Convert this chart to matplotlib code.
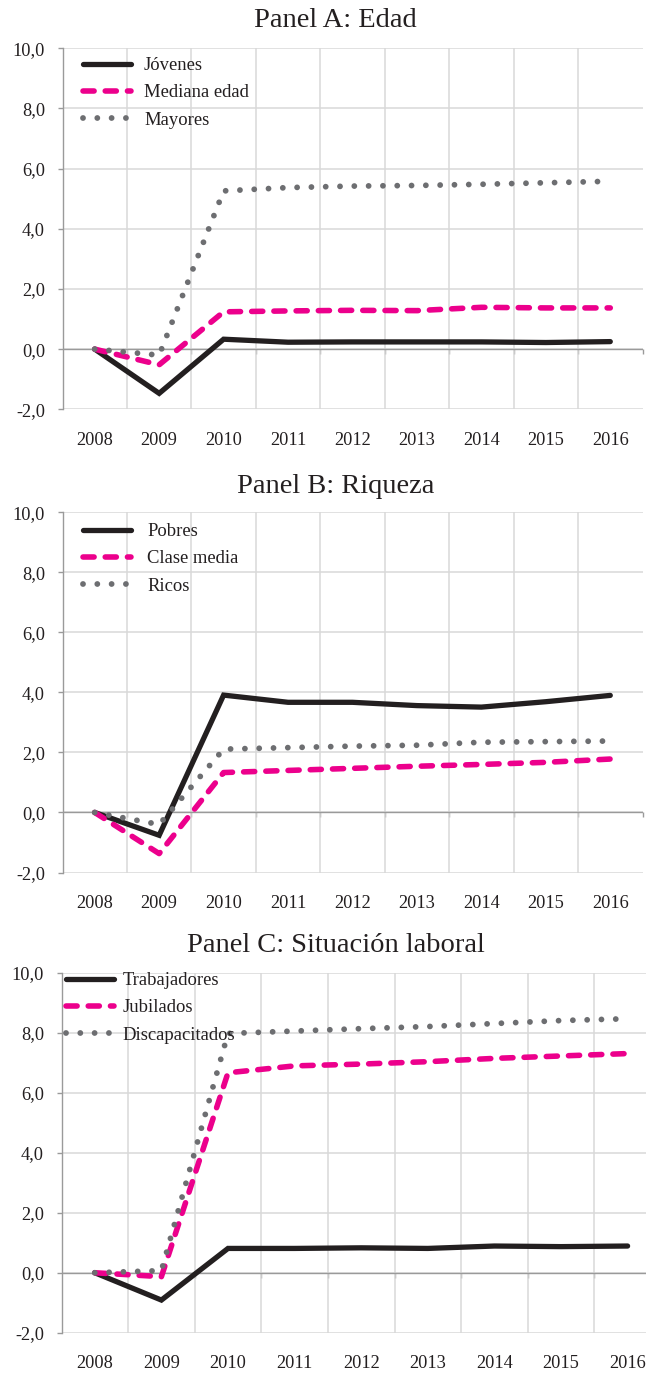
import matplotlib
matplotlib.use("Agg")
import matplotlib.pyplot as plt
import numpy as np

plt.rcParams['font.family'] = ['Liberation Serif', 'DejaVu Serif']
plt.rcParams['lines.scale_dashes'] = False

years = ['2008', '2009', '2010', '2011', '2012', '2013', '2014', '2015', '2016']
yticks = [-2, 0, 2, 4, 6, 8, 10]
ytick_labels = ['-2,0', '0,0', '2,0', '4,0', '6,0', '8,0', '10,0']

titles = ['Panel A: Edad', 'Panel B: Riqueza', 'Panel C: Situación laboral']

# Panel A: Edad
jovenes = [0.0, -1.47, 0.33, 0.23, 0.24, 0.24, 0.24, 0.22, 0.25]
mediana_edad = [0.0, -0.52, 1.24, 1.27, 1.29, 1.28, 1.39, 1.37, 1.37]
mayores = [0.0, -0.20, 5.26, 5.37, 5.42, 5.44, 5.48, 5.53, 5.58]

# Panel B: Riqueza
pobres = [0.0, -0.76, 3.91, 3.67, 3.67, 3.56, 3.51, 3.69, 3.90]
clase_media = [0.0, -1.37, 1.33, 1.40, 1.47, 1.54, 1.60, 1.67, 1.78]
ricos = [0.0, -0.40, 2.11, 2.16, 2.21, 2.24, 2.34, 2.36, 2.38]

# Panel C: Situación laboral
trabajadores = [0.0, -0.91, 0.81, 0.81, 0.83, 0.81, 0.89, 0.87, 0.89]
jubilados = [0.0, -0.13, 6.66, 6.89, 6.95, 7.03, 7.14, 7.22, 7.30]
discapacitados = [0.0, 0.07, 7.97, 8.05, 8.13, 8.20, 8.30, 8.40, 8.46]

labels_a = ['Jóvenes', 'Mediana edad', 'Mayores']
labels_b = ['Pobres', 'Clase media', 'Ricos']
labels_c = ['Trabajadores', 'Jubilados', 'Discapacitados']

panels = [
    (titles[0], [jovenes, mediana_edad, mayores], labels_a),
    (titles[1], [pobres, clase_media, ricos], labels_b),
    (titles[2], [trabajadores, jubilados, discapacitados], labels_c),
]

BLACK = '#231f20'
PINK = '#ec008c'
GRAY = '#6d6e71'
GRID = '#d9d9d9'
AXIS = '#9a9a9a'
TXT = '#231f20'

W, H = 646, 1374
fig = plt.figure(figsize=(W / 100, H / 100), dpi=100)

# layout in pixels: left, right, top, bottom
layout = [
    (62.5, 642.5, 48.3, 409.3),
    (62.5, 642.5, 512.3, 872.5),
    (61.5, 660.9, 972.5, 1332.8),
]
title_pos = [(335, 27.3), (335.5, 493), (335.6, 952)]
legend_pos = [(83, 57, 0.68), (83, 523, 0.85), (66, 972, 0.45)]

styles = [
    dict(color=BLACK, lw=3.8, linestyle='-', solid_capstyle='round', solid_joinstyle='miter'),
    dict(color=PINK, lw=4.0, linestyle=(0, (8.0, 8.0)), dash_capstyle='round', dash_joinstyle='round'),
    dict(color=GRAY, lw=4.2, linestyle=(0, (0.001, 10.3)), dash_capstyle='round'),
]

x = np.arange(len(years))

for i, (title, series, labels) in enumerate(panels):
    l, r, t, b = layout[i]
    ax = fig.add_axes([l / W, 1 - b / H, (r - l) / W, (b - t) / H])
    ax.set_xlim(-0.5, len(years) - 0.5)
    ax.set_ylim(-2, 10)

    for s, lab, st in zip(series, labels, styles):
        ax.plot(x, s, label=lab, zorder=3, **st)

    ax.set_yticks(yticks)
    ax.set_yticklabels(ytick_labels)
    ax.set_xticks(x)
    ax.set_xticklabels(years)
    ax.set_xticks(np.arange(0.5, len(years) - 0.5, 1), minor=True)

    ax.grid(axis='y', which='major', color=GRID, lw=1.1, zorder=0)
    ax.grid(axis='x', which='minor', color=GRID, lw=1.1, zorder=0)
    ax.set_axisbelow(True)

    for sp in ['top', 'right', 'bottom']:
        ax.spines[sp].set_visible(False)
    ax.spines['left'].set_color(AXIS)
    ax.spines['left'].set_linewidth(1.0)

    ax.tick_params(axis='y', which='major', length=3.6, width=1.0, color=AXIS,
                   direction='out', pad=9.0, labelsize=13.2, labelcolor=TXT)
    ax.tick_params(axis='x', which='major', length=0, pad=16.0,
                   labelsize=13.2, labelcolor=TXT)
    ax.tick_params(axis='x', which='minor', length=0)

    # horizontal axis line at zero with small tick marks
    ax.axhline(0, color=AXIS, lw=1.0, zorder=1.5)
    sec = ax.secondary_xaxis((0 - (-2)) / 12)
    sec.set_xticks(np.arange(0.5, len(years) + 0.5, 1))
    sec.set_xticklabels([])
    sec.spines['bottom'].set_visible(False)
    sec.tick_params(axis='x', length=3.6, width=1.0, color=AXIS, direction='out')

    tx, ty = title_pos[i]
    fig.text(tx / W, 1 - ty / H, title, ha='center', va='baseline',
             fontsize=20.5, color=TXT)

    lx, ly, pad = legend_pos[i]
    leg = ax.legend(loc='upper left', bbox_to_anchor=(lx / W, 1 - ly / H),
                    bbox_transform=fig.transFigure, frameon=False,
                    borderpad=0, borderaxespad=0, handlelength=2.6,
                    handletextpad=pad, labelspacing=0.55, fontsize=13.4)
    for txt in leg.get_texts():
        txt.set_color(TXT)

fig.savefig('out.png', dpi=100)
